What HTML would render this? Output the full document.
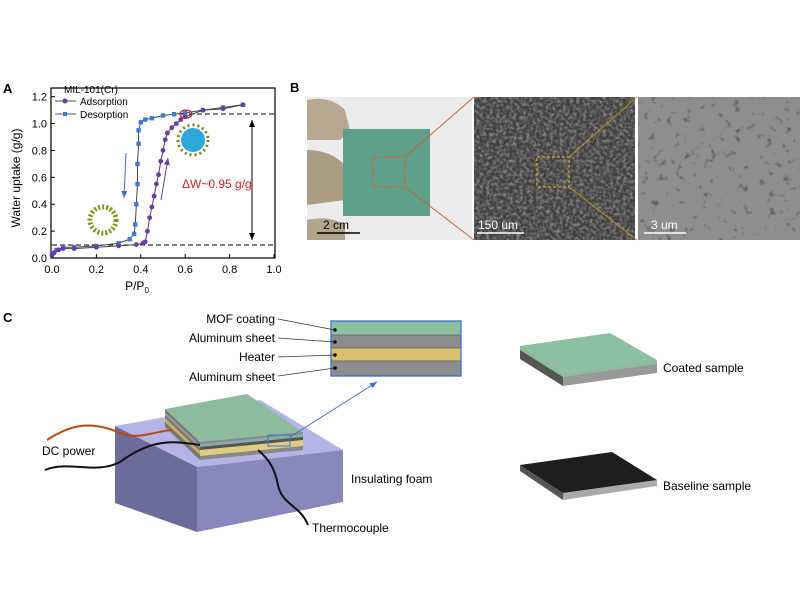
<!DOCTYPE html>
<html><head><meta charset="utf-8"><style>
body{margin:0;background:#fff;}
svg{display:block;font-family:"Liberation Sans",sans-serif;}
</style></head><body>
<svg id="s" width="800" height="600" viewBox="0 0 800 600">
<defs>
<filter id="sem1" x="0" y="0" width="1" height="1"><feTurbulence type="fractalNoise" baseFrequency="0.3" numOctaves="3" seed="3"/><feColorMatrix type="matrix" values="0 0 0 0 0.55  0 0 0 0 0.55  0 0 0 0 0.55  1.2 0 0 0 -0.45"/></filter>
<filter id="sem2" x="0" y="0" width="1" height="1"><feTurbulence type="fractalNoise" baseFrequency="0.12" numOctaves="3" seed="7"/><feColorMatrix type="matrix" values="0 0 0 0 0.12  0 0 0 0 0.12  0 0 0 0 0.12  5 0 0 0 -3.1"/></filter>
<marker id="ah" markerWidth="8" markerHeight="8" refX="7" refY="4" orient="auto"><path d="M0,1 L7,4 L0,7 z" fill="#000"/></marker>
<marker id="ab" markerWidth="8" markerHeight="8" refX="7" refY="4" orient="auto"><path d="M0,1 L7,4 L0,7 z" fill="#3a6fd0"/></marker>
<marker id="ap" markerWidth="8" markerHeight="8" refX="7" refY="4" orient="auto"><path d="M0,1 L7,4 L0,7 z" fill="#6a3aa8"/></marker>
</defs>

<!-- Panel A -->
<text x="3" y="93" font-size="13" font-weight="bold">A</text>
<rect x="51" y="88" width="224" height="170" fill="none" stroke="#000" stroke-width="1.2"/>
<g id="ticks" font-size="11" fill="#000"></g>
<text x="137" y="290" font-size="12" text-anchor="middle">P/P<tspan font-size="8" dy="3">0</tspan></text>
<text transform="translate(20,178) rotate(-90)" font-size="12" text-anchor="middle">Water uptake (g/g)</text>
<line x1="181" y1="114" x2="275" y2="114" stroke="#000" stroke-dasharray="5,3"/>
<line x1="52" y1="245" x2="275" y2="245" stroke="#000" stroke-dasharray="5,3"/>
<line x1="252" y1="130" x2="252" y2="240" stroke="#000" marker-end="url(#ah)"/>
<line x1="252" y1="232" x2="252" y2="120" stroke="#000" marker-end="url(#ah)"/>
<text x="182" y="188" font-size="12" fill="#d0202a">ΔW~0.95 g/g</text>
<line x1="126" y1="153" x2="124" y2="198" stroke="#3a6fd0" marker-end="url(#ab)"/>
<line x1="161" y1="200" x2="168" y2="158" stroke="#6a3aa8" marker-end="url(#ap)"/>
<g id="data"></g>
<ellipse cx="186" cy="114" rx="6" ry="4" fill="none" stroke="#d0202a" stroke-width="1.2"/>
<circle cx="193" cy="140" r="12" fill="#2ea8d8"/><circle cx="193" cy="140" r="15" fill="none" stroke="#6a8a1a" stroke-width="3" stroke-dasharray="2,3"/>
<circle cx="103" cy="220" r="13" fill="none" stroke="#7a9a1a" stroke-width="5" stroke-dasharray="2,2"/>
<text x="64" y="93" font-size="10">MIL-101(Cr)</text>
<line x1="55" y1="101" x2="76" y2="101" stroke="#555"/><circle cx="65" cy="101" r="2.5" fill="#6a3aa8"/>
<text x="80" y="105" font-size="10">Adsorption</text>
<line x1="55" y1="114" x2="76" y2="114" stroke="#555"/><rect x="63" y="112" width="4" height="4" fill="#3a7bd5"/>
<text x="80" y="118" font-size="10">Desorption</text>

<!-- Panel B -->
<text x="290" y="92" font-size="13" font-weight="bold">B</text>
<rect x="307" y="97" width="165" height="143" fill="#ececed"/>
<path d="M307,100 Q330,95 345,110 L350,130 L340,140 L307,140 Z" fill="#b8a890"/>
<path d="M307,150 Q330,150 345,165 L345,200 L307,205 Z" fill="#ab9c84"/>
<path d="M307,220 Q330,215 345,225 L345,240 L307,240 Z" fill="#b3a48c"/>
<rect x="343" y="129" width="87" height="87" fill="#5fa08a"/>
<rect x="373" y="157" width="32" height="30" fill="none" stroke="#e06020" stroke-width="1.2" stroke-dasharray="3,2"/>
<line x1="405" y1="157" x2="474" y2="97" stroke="#d06030"/>
<line x1="405" y1="187" x2="474" y2="240" stroke="#d06030"/>
<line x1="317" y1="233" x2="360" y2="233" stroke="#000" stroke-width="1.5"/>
<text x="323" y="229" font-size="12">2 cm</text>
<rect x="474" y="97" width="161" height="143" fill="#404040"/>
<rect x="474" y="97" width="161" height="143" filter="url(#sem1)"/>
<rect x="537" y="157" width="32" height="30" fill="none" stroke="#d0a020" stroke-width="1.2" stroke-dasharray="3,2"/>
<line x1="569" y1="157" x2="637" y2="97" stroke="#c09020"/>
<line x1="569" y1="187" x2="637" y2="240" stroke="#c09020"/>
<line x1="477" y1="233" x2="524" y2="233" stroke="#fff" stroke-width="1.5"/>
<text x="478" y="229" font-size="12" fill="#fff">150 um</text>
<rect x="638" y="97" width="162" height="143" fill="#8e8e8e"/>
<rect x="638" y="97" width="162" height="143" filter="url(#sem2)"/>
<line x1="644" y1="233" x2="686" y2="233" stroke="#fff" stroke-width="1.5"/>
<text x="651" y="229" font-size="12" fill="#fff">3 um</text>

<!-- Panel C -->
<text x="3" y="322" font-size="13" font-weight="bold">C</text>
<g font-size="12" text-anchor="end">
<text x="275" y="323">MOF coating</text>
<text x="275" y="342">Aluminum sheet</text>
<text x="275" y="361">Heater</text>
<text x="275" y="381">Aluminum sheet</text>
</g>
<rect x="331" y="321" width="130" height="14" fill="#8cc0a0"/>
<rect x="331" y="335" width="130" height="13" fill="#8c8c8c" stroke="#555" stroke-width="0.6"/>
<rect x="331" y="348" width="130" height="13" fill="#d8c070" stroke="#555" stroke-width="0.6"/>
<rect x="331" y="361" width="130" height="15" fill="#8c8c8c" stroke="#555" stroke-width="0.6"/>
<rect x="331" y="321" width="130" height="55" fill="none" stroke="#3a6fd0" stroke-width="1.3"/>
<g stroke="#333" stroke-width="0.8">
<line x1="278" y1="319" x2="335" y2="330"/><line x1="278" y1="338" x2="335" y2="342"/>
<line x1="278" y1="357" x2="335" y2="355"/><line x1="278" y1="376" x2="335" y2="368"/>
</g>
<g fill="#000"><circle cx="335" cy="330" r="1.7"/><circle cx="335" cy="342" r="1.7"/><circle cx="335" cy="355" r="1.7"/><circle cx="335" cy="368" r="1.7"/></g>
<!-- foam -->
<polygon points="115,426 260,400 343,450 197,467" fill="#b4b4e6"/>
<polygon points="115,426 197,467 197,532 115,503" fill="#6c6c9a"/>
<polygon points="197,467 343,450 343,502 197,532" fill="#8888bc"/>
<!-- stack -->
<polygon points="165,409 200,442 200,460 165,427" fill="#777"/>
<polygon points="165,412 200,445 200,448 165,415" fill="#999"/>
<polygon points="165,418 200,451 200,455 165,422" fill="#c8b060"/>
<polygon points="200,442 303,432 303,450 200,460" fill="#888"/>
<polygon points="200,444 303,434 303,437 200,447" fill="#8aa"/>
<polygon points="200,447 303,437 303,440 200,450" fill="#555"/>
<polygon points="200,450 303,440 303,446 200,456" fill="#e0cc80"/>
<polygon points="165,409 247,394 303,432 200,442" fill="#8cbc9c"/>
<rect x="268" y="435" width="22" height="11" fill="none" stroke="#3a6fd0" stroke-width="1"/>
<line x1="290" y1="437" x2="377" y2="382" stroke="#3a6fd0" marker-end="url(#ab)"/>
<path d="M47,440 C70,425 90,420 120,433 C140,440 150,432 172,430" fill="none" stroke="#c04810" stroke-width="2"/>
<path d="M45,470 C70,460 95,475 120,462 C150,440 170,440 200,445" fill="none" stroke="#111" stroke-width="2"/>
<path d="M258,450 C270,460 275,470 278,485 C282,505 300,505 308,525" fill="none" stroke="#111" stroke-width="2"/>
<text x="42" y="455" font-size="12">DC power</text>
<text x="351" y="483" font-size="12">Insulating foam</text>
<text x="312" y="532" font-size="12">Thermocouple</text>
<!-- samples -->
<polygon points="520,346 520,359 563,386 563,373" fill="#555"/>
<polygon points="563,373 657,360 657,373 563,386" fill="#999"/>
<polygon points="520,346 520,350 563,377 563,373" fill="#8cbc9c"/>
<polygon points="563,373 657,360 657,364 563,377" fill="#8cbc9c"/>
<polygon points="520,346 610,333 657,360 563,373" fill="#8cc0a0"/>
<text x="663" y="372" font-size="12">Coated sample</text>
<polygon points="520,465 520,471 563,500 563,493" fill="#555"/>
<polygon points="563,493 657,480 657,486 563,500" fill="#aaa"/>
<polygon points="520,465 612,452 657,480 563,493" fill="#1e1e1e"/>
<text x="663" y="490" font-size="12">Baseline sample</text>
</svg>
<script>
var NS="http://www.w3.org/2000/svg";
function X(p){return 52+222*p}function Y(w){return 258-134.4*w}
function el(t,a,par){var e=document.createElementNS(NS,t);for(var k in a)e.setAttribute(k,a[k]);par.appendChild(e);return e}
var tk=document.getElementById("ticks");
for(var i=0;i<=5;i++){var p=i*0.2;el("line",{x1:X(p),y1:258,x2:X(p),y2:254,stroke:"#000"},tk);var t=el("text",{x:X(p),y:273,"text-anchor":"middle"},tk);t.textContent=p.toFixed(1);}
for(var i=0;i<=6;i++){var w=i*0.2;el("line",{x1:51,y1:Y(w),x2:55,y2:Y(w),stroke:"#000"},tk);var t=el("text",{x:47,y:Y(w)+4,"text-anchor":"end"},tk);t.textContent=w.toFixed(1);}
var ad=[[0,.02],[.01,.04],[.03,.06],[.05,.07],[.1,.07],[.2,.08],[.3,.09],[.38,.1],[.41,.11],[.42,.12],[.43,.2],[.44,.3],[.45,.38],[.46,.46],[.47,.55],[.48,.62],[.49,.72],[.5,.8],[.51,.88],[.52,.93],[.54,.97],[.56,1],[.58,1.03],[.6,1.05],[.68,1.1],[.77,1.11],[.86,1.14]];
var de=[[.86,1.14],[.77,1.12],[.68,1.1],[.6,1.08],[.55,1.07],[.5,1.06],[.45,1.04],[.42,1.03],[.4,1.01],[.39,.95],[.39,.85],[.385,.7],[.385,.55],[.38,.4],[.375,.25],[.37,.18],[.35,.14],[.3,.11],[.2,.09],[.1,.08],[.05,.08],[.02,.06],[0,.03]];
var g=document.getElementById("data");
function draw(d,c,sq){el("polyline",{points:d.map(function(q){return X(q[0])+","+Y(q[1])}).join(" "),fill:"none",stroke:"#444","stroke-width":1},g);
d.forEach(function(q){if(sq)el("rect",{x:X(q[0])-2.2,y:Y(q[1])-2.2,width:4.4,height:4.4,fill:c},g);else el("circle",{cx:X(q[0]),cy:Y(q[1]),r:2.4,fill:c},g);});}
draw(de,"#3a7bd5",true);draw(ad,"#6a3aa8",false);
</script>
</body></html>
